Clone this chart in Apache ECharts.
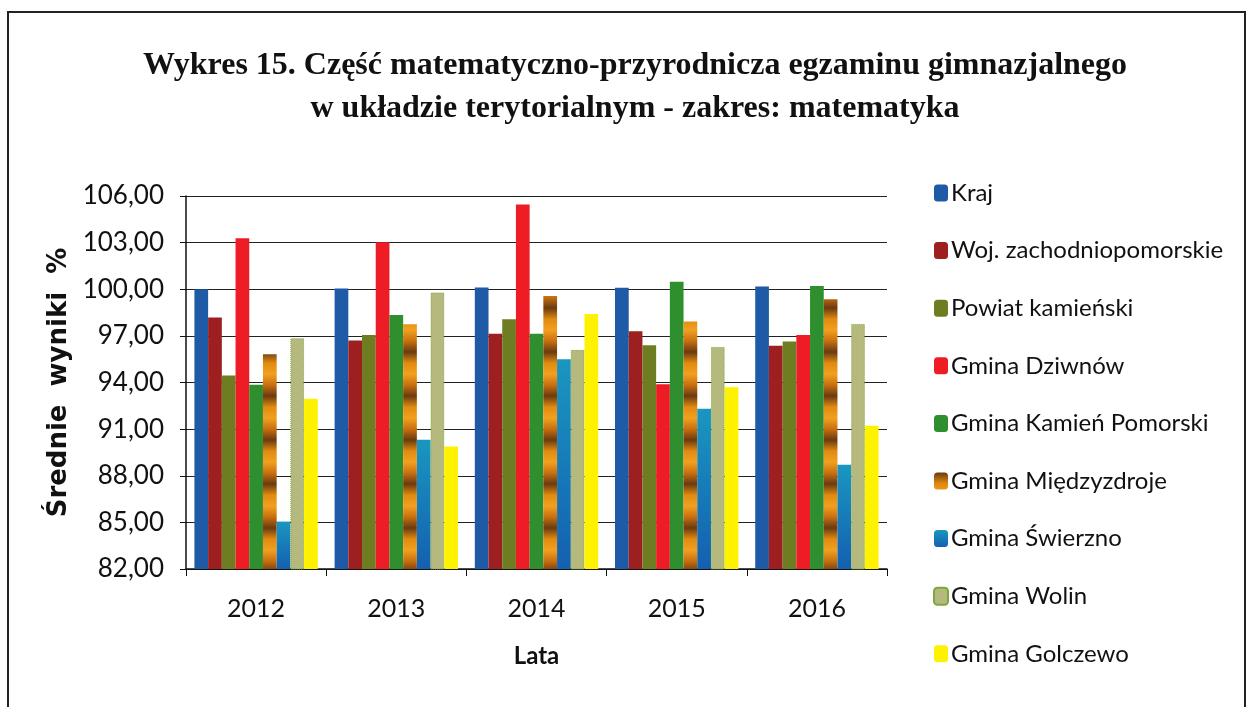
<!DOCTYPE html>
<html><head><meta charset="utf-8">
<script src="https://cdn.jsdelivr.net/npm/echarts@6/dist/echarts.min.js"></script>
<style>html,body{margin:0;padding:0;background:#fff}#c{width:1252px;height:707px}</style>
</head><body><div id="c"></div>
<script>
const years = ['2012','2013','2014','2015','2016'];
const seriesNames = ['Kraj','Woj. zachodniopomorskie','Powiat kamieński','Gmina Dziwnów','Gmina Kamień Pomorski','Gmina Międzyzdroje','Gmina Świerzno','Gmina Wolin','Gmina Golczewo'];
const kraj = [100.00, 100.05, 100.12, 100.10, 100.17];
const woj = [98.18, 96.70, 97.13, 97.30, 96.36];
const powiat = [94.45, 97.06, 98.07, 96.40, 96.64];
const dziwnow = [103.28, 103.02, 105.46, 93.89, 97.06];
const kamien = [93.85, 98.35, 97.13, 100.49, 100.21];
const miedzyzdroje = [95.82, 97.75, 99.57, 97.92, 99.36];
const swierzno = [85.05, 90.31, 95.50, 92.31, 88.71];
const wolin = [96.85, 99.79, 96.10, 96.29, 97.77];
const golczewo = [92.95, 89.89, 98.41, 93.70, 91.21];
const yTicks = [82, 85, 88, 91, 94, 97, 100, 103, 106];

const values = [kraj, woj, powiat, dziwnow, kamien, miedzyzdroje, swierzno, wolin, golczewo];

// striped pattern for Międzyzdroje
const pc = document.createElement('canvas');
pc.width = 14; pc.height = 44;
const px = pc.getContext('2d');
const g = px.createLinearGradient(0, 0, 0, 44);
g.addColorStop(0, '#6b3a10'); g.addColorStop(0.25, '#e08a10'); g.addColorStop(0.5, '#f2a020');
g.addColorStop(0.75, '#c87010'); g.addColorStop(1, '#6b3a10');
px.fillStyle = g; px.fillRect(0, 0, 14, 44);

const colors = [
  '#1f5aa6',
  '#9e1f1f',
  '#6e7d22',
  '#ee1c24',
  '#2f8f2f',
  {image: pc, repeat: 'repeat'},
  {type:'linear', x:0, y:0, x2:0, y2:1, colorStops:[{offset:0,color:'#1a96c0'},{offset:1,color:'#1460b0'}]},
  '#b6b97e',
  '#fff200'
];
const borders = [null,null,null,null,null,null,null,'#7aa83a',null];

const chart = echarts.init(document.getElementById('c'), null, {renderer:'canvas'});
const series = seriesNames.map((n, i) => ({
  name: n, type: 'bar', data: values[i],
  barGap: '0%', barCategoryGap: '12%',
  itemStyle: Object.assign({color: colors[i]}, borders[i] ? {borderColor: borders[i], borderWidth: 1, borderType: 'dotted'} : {})
}));
const labelFont = 'Lato, "Open Sans", sans-serif';
chart.setOption({
  animation: false,
  backgroundColor: '#fff',
  title: {
    text: 'Wykres 15. Część matematyczno-przyrodnicza egzaminu gimnazjalnego\nw układzie terytorialnym - zakres: matematyka',
    left: 630, textAlign: 'center', top: 39,
    textStyle: {fontFamily: '"Liberation Serif", serif', fontWeight: 'bold', fontSize: 32, lineHeight: 43, color: '#111'}
  },
  graphic: [{
    type: 'rect', shape: {x: 8, y: 12, width: 1237, height: 720},
    style: {fill: 'none', stroke: '#222', lineWidth: 2}, silent: true
  }],
  legend: {
    orient: 'vertical', left: 928, top: 176,
    itemWidth: 14, itemHeight: 17, itemGap: 33.6,
    textStyle: {fontFamily: labelFont, fontSize: 24, lineHeight: 24, color: '#111', padding: [0,0,0,-2]},
    data: seriesNames
  },
  grid: {left: 186, right: 365, top: 196, bottom: 138},
  xAxis: {
    type: 'category', data: years,
    name: 'Lata', nameLocation: 'middle', nameGap: 75,
    nameTextStyle: {fontFamily: labelFont, fontWeight: 'bold', fontSize: 24, color: '#111'},
    axisLine: {lineStyle: {color: '#111', width: 1.5}},
    axisTick: {show: true, length: 7, lineStyle: {color: '#111'}},
    axisLabel: {fontFamily: labelFont, fontSize: 25, color: '#111', margin: 27}
  },
  yAxis: {
    type: 'value', min: 82, max: 106, interval: 3,
    name: 'Średnie  wyniki  %', nameLocation: 'middle', nameGap: 114, nameRotate: 90,
    nameTextStyle: {fontFamily: '"DejaVu Sans", sans-serif', fontWeight: 'bold', fontSize: 26, color: '#111'},
    axisLine: {show: true, lineStyle: {color: '#111', width: 1.5}},
    axisTick: {show: true, length: 6, lineStyle: {color: '#111'}},
    axisLabel: {fontFamily: labelFont, fontSize: 26, color: '#111', margin: 22,
      formatter: v => yTicks.includes(v) ? v.toFixed(2).replace('.', ',') : ''},
    splitLine: {lineStyle: {color: '#222', width: 1.2}}
  },
  series: series
});
</script></body></html>
